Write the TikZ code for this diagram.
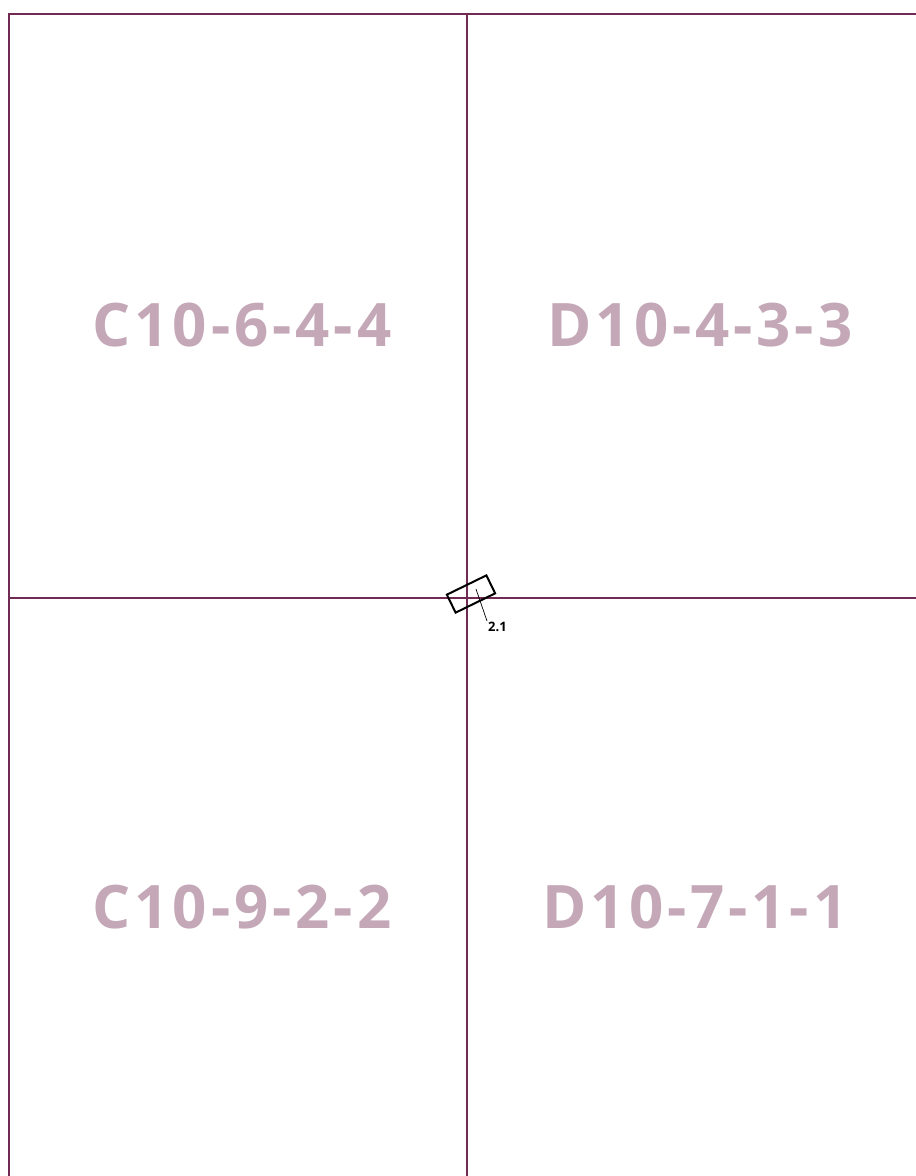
\documentclass[tikz,border=0pt]{standalone}
\usepackage{fontspec}
\setmainfont{Open Sans}
\newfontfamily\sheetfont[LetterSpace=6.5]{Open Sans}
\usepackage{tikz}
\usetikzlibrary{positioning, calc}
\definecolor{gridpurple}{RGB}{112,42,84}
\definecolor{sheetpink}{RGB}{196,168,183}
\tikzstyle{gridline} = [draw=gridpurple, line width=2.8pt]
\tikzstyle{sheet} = [text=sheetpink, font=\sheetfont\fontsize{60}{60}\selectfont\bfseries, inner sep=0pt]
\tikzstyle{marker} = [rectangle, draw, line width=2pt, minimum width=44pt, minimum height=20pt, inner sep=0pt, rotate=26]
\tikzstyle{tag} = [font=\fontsize{13}{13}\selectfont\bfseries, inner sep=1pt]

\begin{document}
\begin{tikzpicture}[x=1pt, y=-1pt]
  \useasboundingbox (0,0) rectangle (916,1176);
  % sheet boundaries
  \draw[gridline] (9,1176) -- (9,14) -- (916,14);
  \draw[gridline] (467,14) -- (467,1176);
  \draw[gridline] (9,598) -- (916,598);

  \node[sheet] (c644) at (242,325) {C10-6-4-4};
  \node[sheet] (d433) at (700,325) {D10-4-3-3};
  \node[sheet] (c922) at (242,907) {C10-9-2-2};
  \node[sheet] (d711) at (695,907) {D10-7-1-1};

  \node[marker] (box) at (471,594) {};
  \node[tag, anchor=north west] (lbl) at (487,621) {2.1};
  \coordinate (pin) at (476,589);
  \draw[line width=0.7pt] (pin) -- (lbl.north west);
\end{tikzpicture}
\end{document}
